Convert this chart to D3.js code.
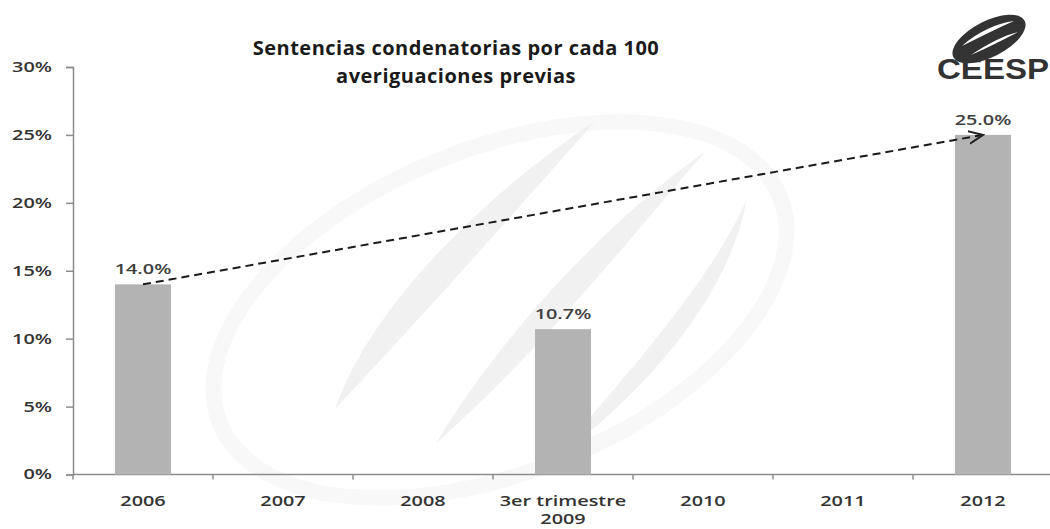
<!DOCTYPE html>
<html>
<head>
<meta charset="utf-8">
<script src="https://cdn.jsdelivr.net/npm/d3@7"></script>
<style>
  body { margin: 0; background: #fff; }
  text { font-family: "Open Sans", "Noto Sans", sans-serif; }
</style>
</head>
<body>
<div id="chart"></div>
<script>
var width = 1050,
    height = 529,
    stretchK = 1.42; // the source picture is stretched horizontally

// data
var categories = ["2006", "2007", "2008", "3er trimestre\n2009", "2010", "2011", "2012"];
var values = [14.0, null, null, 10.7, null, null, 25.0];
var yTicks = [0, 5, 10, 15, 20, 25, 30];
var titleLines = ["Sentencias condenatorias por cada 100", "averiguaciones previas"];

var margin = {left: 73, right: -3, top: 67, bottom: 54.5};

var svg = d3.select("#chart").append("svg")
    .attr("width", width)
    .attr("height", height);

var x = d3.scaleBand()
    .domain(categories)
    .range([margin.left, width - margin.right])
    .paddingInner(0.6)
    .paddingOuter(0.3);

var y = d3.scaleLinear()
    .domain([0, 30])
    .range([height - margin.bottom, margin.top]);

// widen text around its own x position
function stretch(sel) {
  sel.attr("transform", function(){
    var px = +d3.select(this).attr("x") || 0;
    return "translate(" + px + ",0) scale(" + stretchK + ",1) translate(" + (-px) + ",0)";
  });
}

// faint watermark behind the plot
var wm = svg.append("g")
    .attr("transform", "translate(500,310) rotate(-22)")
    .style("fill", "#f1f1f1");
wm.append("ellipse").attr("rx", 310).attr("ry", 170).style("fill", "#f8f8f8");
wm.append("ellipse").attr("rx", 294).attr("ry", 154).style("fill", "#fff");
wm.append("path")
  .attr("d", "M-190,30 C-120,-50 20,-110 160,-140 C60,-90 -60,-30 -190,30 Z");
wm.append("path")
  .attr("d", "M-110,100 C10,10 160,-50 250,-70 C150,-20 30,50 -110,100 Z");
wm.append("path")
  .attr("d", "M-10,160 C90,110 210,50 270,-10 C220,70 110,130 -10,160 Z");

// axes
var yAxis = svg.append("g")
    .attr("transform", "translate(" + margin.left + ",0)")
    .call(d3.axisLeft(y).tickValues(yTicks).tickFormat(function(d){ return d + "%"; }).tickSize(7).tickPadding(14));

var step = x.step();
var xTickPos = categories.map(function(c){ return x(c) + x.bandwidth() / 2 - step / 2; });

var xAxis = svg.append("g")
    .attr("transform", "translate(0," + y(0) + ")");
xAxis.append("line")
    .attr("x1", margin.left).attr("x2", width)
    .style("stroke", "#8c8c8c").style("stroke-width", 1.5);
xAxis.selectAll(".xt").data(xTickPos).enter().append("line")
    .attr("x1", function(d){ return d; }).attr("x2", function(d){ return d; })
    .attr("y1", 0).attr("y2", 5)
    .style("stroke", "#8c8c8c").style("stroke-width", 1.5);

xAxis.selectAll(".xl").data(categories).enter().append("text")
    .attr("text-anchor", "middle")
    .attr("x", function(d){ return x(d) + x.bandwidth() / 2; })
    .style("font-size", "14px")
    .style("font-weight", "600")
    .style("fill", "#333")
    .each(function(d){
      var lines = d.split("\n");
      var t = d3.select(this);
      lines.forEach(function(l, i){
        t.append("tspan").attr("x", t.attr("x")).attr("y", 32 + i * 18).text(l);
      });
    })
    .call(stretch);

yAxis.select(".domain").style("stroke", "#8c8c8c").style("stroke-width", 1.5);
yAxis.selectAll(".tick line").style("stroke", "#8c8c8c").style("stroke-width", 1.5);
yAxis.selectAll(".tick text")
    .style("font-size", "14px")
    .style("font-weight", "600")
    .style("fill", "#333")
    .style("font-family", "'Open Sans', sans-serif")
    .call(stretch);

// bars
var data = categories.map(function(c, i){ return {cat: c, value: values[i]}; })
    .filter(function(d){ return d.value != null; });

svg.selectAll(".bar").data(data).enter().append("rect")
    .attr("x", function(d){ return x(d.cat); })
    .attr("width", x.bandwidth())
    .attr("y", function(d){ return y(d.value); })
    .attr("height", function(d){ return y(0) - y(d.value); })
    .style("fill", "#b3b3b3");

svg.selectAll(".lbl").data(data).enter().append("text")
    .attr("x", function(d){ return x(d.cat) + x.bandwidth() / 2; })
    .attr("y", function(d){ return y(d.value) - 10; })
    .attr("text-anchor", "middle")
    .style("font-size", "14px")
    .style("font-weight", "600")
    .style("fill", "#404040")
    .text(function(d){ return d.value.toFixed(1) + "%"; })
    .call(stretch);

// dashed trend arrow from first to last bar
svg.append("defs").append("marker")
    .attr("id", "arr")
    .attr("viewBox", "0 0 10 10")
    .attr("refX", 9).attr("refY", 5)
    .attr("markerWidth", 8).attr("markerHeight", 8)
    .attr("orient", "auto")
  .append("path")
    .attr("d", "M0,1 L9,5 L0,9")
    .style("fill", "none").style("stroke", "#222").style("stroke-width", 1.3);

var first = data[0], last = data[data.length - 1];
svg.append("line")
    .attr("x1", x(first.cat) + x.bandwidth() / 2)
    .attr("y1", y(first.value))
    .attr("x2", x(last.cat) + x.bandwidth() / 2)
    .attr("y2", y(last.value))
    .style("stroke", "#1a1a1a")
    .style("stroke-width", 2)
    .style("stroke-dasharray", "8,5")
    .attr("marker-end", "url(#arr)");

// title
svg.selectAll(".title").data(titleLines).enter().append("text")
    .attr("x", 456)
    .attr("y", function(d, i){ return 55 + i * 28; })
    .attr("text-anchor", "middle")
    .style("font-size", "20px")
    .style("font-weight", "bold")
    .style("letter-spacing", "0.5px")
    .style("fill", "#1a1a1a")
    .text(function(d){ return d; });

// CEESP logo
var logo = svg.append("g").attr("transform", "translate(989,39)");
logo.append("ellipse")
    .attr("rx", 40).attr("ry", 18)
    .attr("transform", "rotate(-27)")
    .style("fill", "#333");
logo.append("path")
    .attr("d", "M-27,7 C-12,-7 9,-16 25,-18 C9,-11 -9,-2 -27,7 Z M-18,16 C-2,5 16,-4 29,-7 C16,0 -2,9 -18,16 Z")
    .style("fill", "#fff");
svg.append("text")
    .attr("x", 993).attr("y", 79)
    .attr("text-anchor", "middle")
    .attr("textLength", 112)
    .attr("lengthAdjust", "spacingAndGlyphs")
    .style("font-family", "'Liberation Sans Narrow', 'Liberation Sans', sans-serif")
    .style("font-size", "29px")
    .style("font-weight", "bold")
    .style("fill", "#333")
    .text("CEESP");
</script>
</body>
</html>
